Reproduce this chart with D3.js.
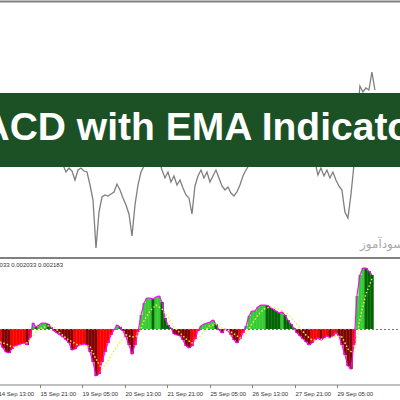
<!DOCTYPE html>
<html>
<head>
<meta charset="utf-8">
<script src="https://cdn.jsdelivr.net/npm/d3@7"></script>
<style>
  html, body { margin: 0; padding: 0; background: #fff; }
  svg { display: block; }
</style>
</head>
<body>
<svg id="chart" width="400" height="400"></svg>
<script>
// MACD histogram values, one per sample (each sample ~2.26 hourly bars)
var macd = [
  -0.000526, -0.000714, -0.000865, -0.000902, -0.000752, -0.000639, -0.000602, -0.000564, -0.000526, -0.000602,
  -0.000338, 0.000226, 0.000075, 0.000150, 0.000226, 0.000226, 0.000188, 0.000075, -0.000075, -0.000150,
  -0.000226, -0.000301, -0.000414, -0.000526, -0.000790, -0.000752, -0.000639, -0.000602, -0.000564, -0.000602,
  -0.000865, -0.001241, -0.001767, -0.001692, -0.001241, -0.000865, -0.000526, -0.000226, -0.000038, 0.000150,
  0.000075, -0.000075, -0.000301, -0.000602, -0.000940, -0.000602, -0.000113, 0.000526, 0.000978, 0.001166,
  0.001166, 0.001128, 0.001203, 0.001241, 0.001015, 0.000414, 0.000150, 0.000038, -0.000188, -0.000226,
  -0.000263, -0.000414, -0.000639, -0.000714, -0.000639, -0.000376, -0.000075, 0.000113, 0.000188, 0.000226,
  0.000263, 0.000338, 0.000188, -0.000038, -0.000150, 0, -0.000075, -0.000226, -0.000414, -0.000526,
  -0.000376, -0.000150, 0.000113, 0.000489, 0.000677, 0.000680, 0.000827, 0.000902, 0.000902, 0.000895,
  0.000827, 0.000752, 0.000677, 0.000602, 0.000639, 0.000526, 0.000338, 0.000188, 0.000038, -0.000150,
  -0.000263, -0.000376, -0.000489, -0.000602, -0.000526, -0.000414, -0.000338, -0.000414, -0.000338, -0.000263,
  -0.000338, -0.000263, -0.000150, -0.000263, -0.000602, -0.000978, -0.001391, -0.001504, -0.000602, 0.001241,
  0.002030, 0.002294, 0.002290, 0.002181, 0.002033
];

// signal line (EMA), read every second sample
var signal = [
  -0.000489, -0.000564, -0.000677, -0.000677, -0.000602, -0.000414, -0.000113, 0.000038, 0.000113, 0.000075,
  -0.000150, -0.000338, -0.000489, -0.000602, -0.000639, -0.000677, -0.001128, -0.001504, -0.001203, -0.000827,
  -0.000489, -0.000226, -0.000301, -0.000263, 0.000301, 0.000677, 0.000902, 0.000752, 0.000451, 0.000075,
  -0.000150, -0.000376, -0.000526, -0.000376, -0.000075, 0.000113, 0.000188, 0.000038, -0.000038, -0.000188,
  -0.000338, -0.000188, 0.000188, 0.000526, 0.000752, 0.000827, 0.000790, 0.000677, 0.000564, 0.000301,
  0.000038, -0.000226, -0.000414, -0.000414, -0.000376, -0.000338, -0.000263, -0.000301, -0.000752, -0.000940,
  0.000376, 0.001316, 0.001880
];

// price closes, starting at sample 21
var priceStart = 21;
var price = [
  1.1735, 1.1728, 1.1732, 1.1729, 1.1720, 1.1730, 1.1732, 1.1729, 1.1728, 1.1715,
  1.1700, 1.1652, 1.1688, 1.1703, 1.1705, 1.1704, 1.1706, 1.1708, 1.1716, 1.1710,
  1.1702, 1.1695, 1.1686, 1.1664, 1.1695, 1.1715, 1.1728, 1.1734, 1.1740, 1.1750,
  1.1760, 1.1755, 1.1740, 1.1730, 1.1722, 1.1728, 1.1718, 1.1724, 1.1715, 1.1720,
  1.1712, 1.1705, 1.1702, 1.1686, 1.1714, 1.1724, 1.1730, 1.1722, 1.1728, 1.1718,
  1.1724, 1.1730, 1.1722, 1.1714, 1.1710, 1.1713, 1.1707, 1.1704, 1.1708, 1.1715,
  1.1724, 1.1730, 1.1735, 1.1750, 1.1760, 1.1765, 1.1770, 1.1775, 1.1772, 1.1780,
  1.1775, 1.1770, 1.1765, 1.1772, 1.1780, 1.1785, 1.1775, 1.1770, 1.1760, 1.1755,
  1.1750, 1.1745, 1.1750, 1.1742, 1.1738, 1.1725, 1.1732, 1.1724, 1.1730, 1.1722,
  1.1728, 1.1720, 1.1714, 1.1710, 1.1688, 1.1682, 1.1705, 1.1735, 1.1780, 1.1814,
  1.1808, 1.1812, 1.1810, 1.1828, 1.1810
];

var tickLabels = ["14 Sep 13:00", "15 Sep 21:00", "19 Sep 05:00", "20 Sep 13:00", "21 Sep 21:00",
                  "25 Sep 05:00", "26 Sep 13:00", "27 Sep 21:00", "29 Sep 05:00"];
var legendText = "0.002033 0.002033 0.002183";
var title = "MACD with EMA Indicator";
var watermark = "سودآموز";

var barsPerSample = 2.26, firstBar = 1.9, barsPerTick = 32;

var svg = d3.select("#chart"),
    width = 400;

var x = d3.scaleLinear().domain([0, 288]).range([-2.5, 379.7]);
function sx(i) { return x(firstBar + i * barsPerSample); }
var bw = x(barsPerSample) - x(0);

var yPrice = d3.scaleLinear().domain([1.1642, 1.19]).range([258, 0]);
var y = d3.scaleLinear().domain([-0.00207, 0.00267]).range([384, 258]);

// price panel
svg.append("path")
    .datum(price)
    .attr("fill", "none")
    .attr("stroke", "#7f7f7f")
    .attr("stroke-width", 1.3)
    .attr("d", d3.line()
        .x(function(d, i) { return sx(i + priceStart); })
        .y(function(d) { return yPrice(d); }));

// banner
svg.append("rect")
    .attr("x", 0).attr("y", 93)
    .attr("width", width).attr("height", 74)
    .attr("fill", "#1b5125");
svg.append("text")
    .attr("x", -51).attr("y", 140)
    .attr("font-family", "'Liberation Sans', Arial, sans-serif")
    .attr("font-weight", "bold")
    .attr("font-size", 39)
    .attr("fill", "#fff")
    .text(title);

svg.append("text")
    .attr("x", 360).attr("y", 248)
    .attr("font-family", "'Noto Sans', 'DejaVu Sans', sans-serif")
    .attr("font-size", 12)
    .attr("fill", "#aaa")
    .text(watermark);

// frame lines
svg.append("line").attr("x1", 0).attr("x2", width).attr("y1", 1.5).attr("y2", 1.5)
    .attr("stroke", "#808080").attr("stroke-width", 2);
svg.append("line").attr("x1", 0).attr("x2", width).attr("y1", 258).attr("y2", 258)
    .attr("stroke", "#808080").attr("stroke-width", 2);

// histogram
svg.append("g").selectAll("rect")
    .data(macd)
    .join("rect")
    .attr("x", function(d, i) { return sx(i) - bw / 2; })
    .attr("width", bw + 0.3)
    .attr("y", function(d) { return Math.min(y(d), y(0)); })
    .attr("height", function(d) { return Math.abs(y(d) - y(0)); })
    .attr("fill", function(d, i) {
        var up = i === 0 || d >= macd[i - 1];
        if (d >= 0) return up ? "#33cc33" : "#006400";
        return up ? "#ff0000" : "#800000";
    });

// zero line
svg.append("line")
    .attr("x1", 0).attr("x2", width)
    .attr("y1", y(0) + 0.5).attr("y2", y(0) + 0.5)
    .attr("stroke", "#707070")
    .attr("stroke-dasharray", "2,2");

// macd line
svg.append("path")
    .datum(macd)
    .attr("fill", "none")
    .attr("stroke", "#ff00ff")
    .attr("stroke-width", 1.1)
    .attr("d", d3.line()
        .x(function(d, i) { return sx(i); })
        .y(function(d) { return y(d); }));

// signal line
svg.append("path")
    .datum(signal)
    .attr("fill", "none")
    .attr("stroke", "#f2e84a")
    .attr("stroke-width", 1.5)
    .attr("stroke-dasharray", "1.5,2")
    .attr("d", d3.line()
        .x(function(d, i) { return sx(i * 2); })
        .y(function(d) { return y(d); }));

svg.append("text")
    .attr("x", 63).attr("y", 267)
    .attr("text-anchor", "end")
    .attr("font-family", "'Liberation Sans', Arial, sans-serif")
    .attr("font-size", 6)
    .attr("fill", "#333")
    .text(legendText);

// time axis
var axisY = 385;
svg.append("line").attr("x1", 0).attr("x2", width).attr("y1", axisY).attr("y2", axisY)
    .attr("stroke", "#808080");
var ticks = svg.append("g").selectAll("g")
    .data(tickLabels)
    .join("g")
    .attr("transform", function(d, i) { return "translate(" + (Math.round(x(i * barsPerTick)) + 0.5) + "," + axisY + ")"; });
ticks.append("line").attr("y1", 0).attr("y2", 3).attr("stroke", "#808080");
ticks.append("text")
    .attr("x", 0).attr("y", 11)
    .attr("font-family", "'Liberation Sans', Arial, sans-serif")
    .attr("font-size", 6)
    .attr("fill", "#333")
    .text(function(d) { return d; });
</script>
</body>
</html>
